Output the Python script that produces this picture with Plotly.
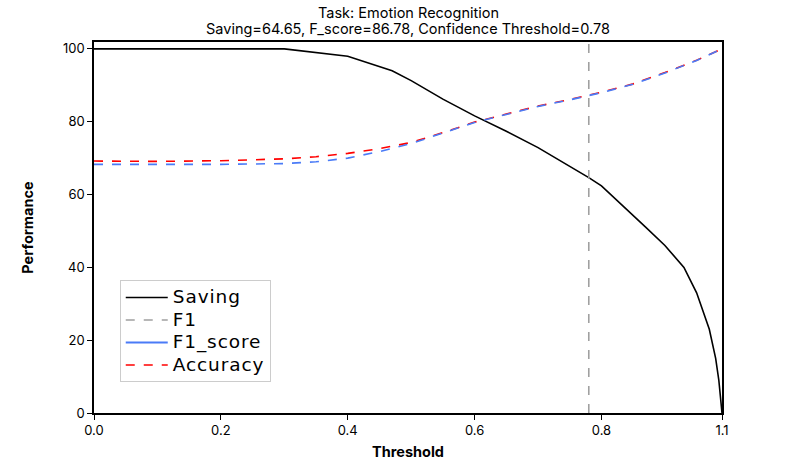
import plotly.graph_objects as go

thresholds = [0.0, 0.1, 0.2, 0.3, 0.4, 0.47, 0.5, 0.55, 0.6, 0.65, 0.7, 0.75, 0.78, 0.8, 0.83, 0.87, 0.9, 0.93, 0.95, 0.97, 0.98, 0.985, 0.99]
saving = [100, 100, 100, 100, 98.0, 94.0, 91.3, 86.2, 81.6, 77.4, 72.9, 67.8, 64.65, 62.4, 57.6, 51.0, 46.0, 40.0, 33.0, 23.0, 15.0, 9.0, 0.0]

perf_x = [0.0, 0.1, 0.2, 0.3, 0.35, 0.4, 0.45, 0.5, 0.55, 0.6, 0.65, 0.7, 0.75, 0.78, 0.8, 0.85, 0.9, 0.95, 0.99]
f1_score = [68.3, 68.2, 68.3, 68.5, 69.0, 70.0, 71.8, 74.0, 76.8, 79.8, 82.0, 84.2, 86.0, 87.2, 88.0, 90.3, 93.4, 96.8, 100.0]
accuracy = [69.2, 69.1, 69.3, 69.8, 70.4, 71.3, 72.6, 74.3, 77.0, 79.9, 82.1, 84.3, 86.1, 87.3, 88.1, 90.4, 93.5, 96.9, 100.0]

conf_threshold = 0.78
x_tickvals = [0.0, 0.2, 0.4, 0.6, 0.8, 0.99]
x_ticktext = ["0.0", "0.2", "0.4", "0.6", "0.8", "1.1"]
y_tickvals = [0, 20, 40, 60, 80, 100]

title_line1 = "Task: Emotion Recognition"
title_line2 = "Saving=64.65, F_score=86.78, Confidence Threshold=0.78"

FONT = "Inter"
LEG_FONT = "DejaVu Sans"
BLUE = "#4a7bf7"


def leg(name):
    return '<span style="font-size:18.5px;letter-spacing:0.9px">' + name + '</span>'


fig = go.Figure()
fig.add_trace(go.Scatter(x=thresholds, y=saving, mode="lines", name=leg("Saving"),
                         line=dict(color="black", width=1.6)))
fig.add_trace(go.Scatter(x=[conf_threshold, conf_threshold], y=[0, 102], mode="lines", name=leg("F1"),
                         line=dict(color="#a0a0a0", width=1.6, dash="dash")))
# legend entry for F1_score (solid in legend)
fig.add_trace(go.Scatter(x=[None], y=[None], mode="lines", name=leg("F1_score"),
                         line=dict(color=BLUE, width=2)))
fig.add_trace(go.Scatter(x=perf_x, y=accuracy, mode="lines", name=leg("Accuracy"),
                         line=dict(color="red", width=1.6, dash="dash")))
fig.add_trace(go.Scatter(x=perf_x, y=f1_score, mode="lines", name="F1_score",
                         showlegend=False,
                         line=dict(color=BLUE, width=1.6, dash="dash")))

fig.update_layout(
    width=806, height=466,
    margin=dict(l=94, r=84, t=42, b=53, autoexpand=False),
    plot_bgcolor="white", paper_bgcolor="white",
    font=dict(family=FONT, color="black", size=13),
    showlegend=True,
    legend=dict(x=0.041, y=0.358, xanchor="left", yanchor="top",
                bgcolor="white", bordercolor="#cccccc", borderwidth=1,
                font=dict(size=15, family=LEG_FONT), tracegroupgap=0, itemwidth=42),
)
fig.add_annotation(text=title_line1, x=0.5, xref="paper", y=1.0, yref="paper",
                   yanchor="middle", yshift=29, showarrow=False,
                   font=dict(size=14.5, family=FONT))
fig.add_annotation(text=title_line2, x=0.5, xref="paper", y=1.0, yref="paper",
                   yanchor="middle", yshift=13, showarrow=False,
                   font=dict(size=14.5, family=FONT))
fig.update_xaxes(range=[0, 0.99], tickvals=x_tickvals, ticktext=x_ticktext,
                 showline=True, linecolor="black", linewidth=1.5, mirror=True,
                 ticks="outside", ticklen=5, tickcolor="black", showgrid=False, zeroline=False,
                 title=dict(text="<b>Threshold</b>", font=dict(size=14.5, family=FONT), standoff=10),
                 tickfont=dict(size=13))
fig.update_yaxes(range=[0, 101.9], tickvals=y_tickvals,
                 showline=True, linecolor="black", linewidth=1.5, mirror=True,
                 ticks="outside", ticklen=5, tickcolor="black", showgrid=False, zeroline=False,
                 title=dict(text="<b>Performance</b>", font=dict(size=14.5, family=FONT), standoff=26),
                 tickfont=dict(size=13))

fig.write_html("out.html", config={"displayModeBar": False},
               post_script="document.body.style.margin='0px';")
